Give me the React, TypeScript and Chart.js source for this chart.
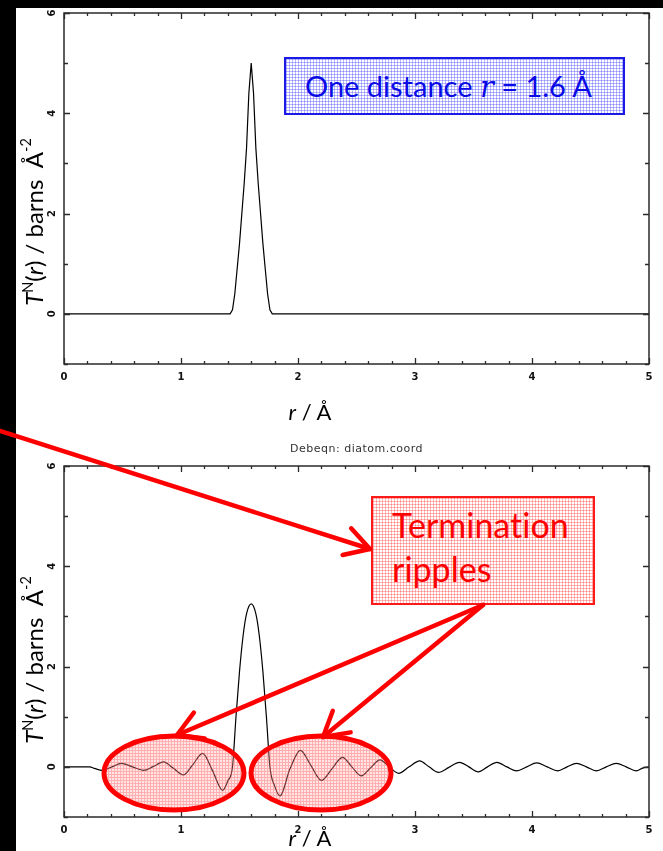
import React, { useEffect, useRef } from 'react';
import { Chart, registerables } from 'chart.js';

Chart.register(...registerables);

// ---- data ----
const topR = [0, 1.42, 1.44, 1.46, 1.48, 1.5, 1.52, 1.54, 1.56, 1.58, 1.6, 1.62, 1.64, 1.66, 1.68, 1.7, 1.72, 1.74, 1.76, 1.78, 5];
const topT = [0, 0, 0.08, 0.4, 0.9, 1.4, 2.0, 2.6, 3.3, 4.4, 5.0, 4.4, 3.3, 2.6, 2.0, 1.4, 0.9, 0.4, 0.08, 0, 0];

const bottomR = [0, 0.22, 0.26, 0.33, 0.41, 0.49, 0.585, 0.68, 0.765, 0.85, 0.935, 1.02, 1.1, 1.185, 1.27, 1.356, 1.4, 1.44, 1.47, 1.5, 1.53, 1.56, 1.6, 1.64, 1.67, 1.7, 1.73, 1.76, 1.8, 1.846, 1.93, 2.02, 2.11, 2.2, 2.29, 2.38, 2.46, 2.54, 2.62, 2.7, 2.78, 2.86, 2.95, 3.04, 3.12, 3.2, 3.29, 3.38, 3.46, 3.54, 3.62, 3.7, 3.785, 3.87, 3.955, 4.04, 4.13, 4.22, 4.3, 4.38, 4.465, 4.55, 4.635, 4.72, 4.805, 4.89, 4.95, 5.0];
const bottomT = [0, 0, -0.03, -0.07, 0, 0.07, 0, -0.07, 0.01, 0.1, -0.03, -0.16, 0.04, 0.27, -0.08, -0.47, -0.28, 0, 1.0, 1.9, 2.6, 3.05, 3.25, 3.05, 2.6, 1.9, 1.0, 0, -0.38, -0.58, -0.05, 0.33, 0.03, -0.27, -0.04, 0.19, 0, -0.18, -0.02, 0.14, 0, -0.13, 0, 0.12, 0, -0.11, -0.01, 0.09, 0, -0.1, 0, 0.09, 0, -0.08, 0, 0.08, 0, -0.08, 0, 0.07, 0, -0.08, 0, 0.07, 0, -0.08, -0.02, 0];

const xTickLabels = ['0', '1', '2', '3', '4', '5'];
const xMinorTicks = [0.2, 0.4, 0.6, 0.8, 1.2, 1.4, 1.6, 1.8, 2.2, 2.4, 2.6, 2.8, 3.2, 3.4, 3.6, 3.8, 4.2, 4.4, 4.6, 4.8];
const yTickLabels = ['0', '2', '4', '6'];
const yMinorTicks = [-1, 1, 3, 5];
const bottomTitle = 'Debeqn: diatom.coord';

const framePlugin = {
  id: 'frame',
  afterDraw(chart: any, _args: any, opts: any) {
    const { ctx, chartArea: a } = chart;
    const xs = chart.scales.x;
    const ys = chart.scales.y;
    ctx.save();
    ctx.strokeStyle = '#2a2a2a';
    ctx.lineWidth = 1.5;
    ctx.strokeRect(a.left, a.top, a.right - a.left, a.bottom - a.top);
    ctx.lineWidth = 1.3;
    ctx.beginPath();
    const xt = (v: number, len: number) => {
      const p = Math.round(xs.getPixelForValue(v)) + 0.5;
      ctx.moveTo(p, a.bottom); ctx.lineTo(p, a.bottom - len);
      ctx.moveTo(p, a.top); ctx.lineTo(p, a.top + len);
    };
    const yt = (v: number, len: number) => {
      const p = Math.round(ys.getPixelForValue(v)) + 0.5;
      ctx.moveTo(a.left, p); ctx.lineTo(a.left + len, p);
      ctx.moveTo(a.right, p); ctx.lineTo(a.right - len, p);
    };
    xTickLabels.forEach((l) => xt(Number(l), 6));
    xMinorTicks.forEach((v) => xt(v, 3));
    yTickLabels.forEach((l) => yt(Number(l), 6));
    yMinorTicks.forEach((v) => yt(v, 4));
    ctx.stroke();

    ctx.fillStyle = '#111';
    ctx.font = 'bold 10px "DejaVu Sans"';
    ctx.textAlign = 'center';
    ctx.textBaseline = 'middle';
    xTickLabels.forEach((l) => {
      ctx.fillText(l, xs.getPixelForValue(Number(l)), a.bottom + 13);
    });
    yTickLabels.forEach((l) => {
      ctx.save();
      ctx.translate(a.left - 12, ys.getPixelForValue(Number(l)));
      ctx.rotate(-Math.PI / 2);
      ctx.fillText(l, 0, 0);
      ctx.restore();
    });
    if (opts && opts.title) {
      ctx.fillStyle = '#333';
      ctx.font = '11px "DejaVu Sans"';
      try { (ctx as any).letterSpacing = '0.5px'; } catch (e) { /* ignore */ }
      ctx.fillText(opts.title, (a.left + a.right) / 2, a.top - 17);
    }
    ctx.restore();
  },
};

function makeChart(canvas: HTMLCanvasElement, r: number[], t: number[], padding: any, title: string, smooth: boolean) {
  return new Chart(canvas, {
    type: 'line',
    data: {
      datasets: [
        {
          data: r.map((v, i) => ({ x: v, y: t[i] })),
          borderColor: '#000',
          borderWidth: 1.2,
          pointRadius: 0,
          fill: false,
          tension: 0,
          cubicInterpolationMode: smooth ? 'monotone' : 'default',
        } as any,
      ],
    },
    options: {
      animation: false,
      responsive: false,
      events: [],
      layout: { padding },
      plugins: {
        legend: { display: false },
        tooltip: { enabled: false },
        title: { display: false },
        frame: { title },
      } as any,
      scales: {
        x: { type: 'linear', min: 0, max: 5, display: false },
        y: { type: 'linear', min: -1, max: 6, display: false },
      },
    },
    plugins: [framePlugin],
  });
}

function arrowHead(x1: number, y1: number, x2: number, y2: number, len = 28, ang = Math.PI / 6) {
  const th = Math.atan2(y1 - y2, x1 - x2);
  const a = { x: x2 + len * Math.cos(th + ang), y: y2 + len * Math.sin(th + ang) };
  const b = { x: x2 + len * Math.cos(th - ang), y: y2 + len * Math.sin(th - ang) };
  return `${a.x},${a.y} ${x2},${y2} ${b.x},${b.y}`;
}

const arrows = [
  [0, 431, 370, 549],
  [483, 605, 177, 735],
  [483, 605, 323, 737],
];

const yTitle = (
  <>
    <i>T</i>
    <sup style={{ fontSize: '0.6em', verticalAlign: '0.7em' }}>N</sup>(<i>r</i>) / barns&nbsp; Å
    <sup style={{ fontSize: '0.6em', verticalAlign: '0.8em' }}>-2</sup>
  </>
);

export default function App() {
  const c1 = useRef<HTMLCanvasElement>(null);
  const c2 = useRef<HTMLCanvasElement>(null);

  useEffect(() => {
    const ch1 = makeChart(c1.current!, topR, topT, { left: 48, top: 5, right: 14, bottom: 56 }, '', false);
    const ch2 = makeChart(c2.current!, bottomR, bottomT, { left: 48, top: 46, right: 14, bottom: 34 }, bottomTitle, true);
    return () => {
      ch1.destroy();
      ch2.destroy();
    };
  }, []);

  const font = 'Lato, "Open Sans", sans-serif';
  const yTitleStyle = (cy: number): React.CSSProperties => ({
    position: 'absolute', left: 30, top: cy, transform: 'translate(-50%, -50%) rotate(-90deg)',
    whiteSpace: 'nowrap', fontFamily: font, fontSize: 24, color: '#000', lineHeight: '28px',
  });
  const xTitleStyle = (top: number): React.CSSProperties => ({
    position: 'absolute', left: 250, width: 120, top, textAlign: 'center',
    whiteSpace: 'nowrap', fontFamily: font, fontSize: 22, lineHeight: '22px', color: '#000',
  });

  return (
    <div style={{ position: 'absolute', left: 0, top: 0, width: 663, height: 851, background: '#000', overflow: 'hidden', fontVariantLigatures: 'none' }}>
      <div style={{ position: 'absolute', left: 16, top: 8, width: 647, height: 843, background: '#fff' }} />
      <canvas ref={c1} width={647} height={412} style={{ position: 'absolute', left: 16, top: 8, width: 647, height: 412 }} />
      <canvas ref={c2} width={647} height={431} style={{ position: 'absolute', left: 16, top: 420, width: 647, height: 431 }} />

      <div style={yTitleStyle(222)}>{yTitle}</div>
      <div style={yTitleStyle(660)}>{yTitle}</div>
      <div style={xTitleStyle(401)}><i>r</i> / Å</div>
      <div style={xTitleStyle(827)}><i>r</i> / Å</div>

      <div
        style={{
          position: 'absolute', left: 284, top: 57, width: 341, height: 58, boxSizing: 'border-box',
          border: '2px solid #1a1ae6', backgroundColor: '#fff',
          backgroundImage: 'linear-gradient(rgba(70,70,255,0.38) 1px, transparent 1px), linear-gradient(90deg, rgba(70,70,255,0.38) 1px, transparent 1px)',
          backgroundSize: '3px 3px', display: 'flex', alignItems: 'center', justifyContent: 'center',
          paddingRight: 12,
          fontFamily: font, fontSize: 29, color: '#0a0ae6', whiteSpace: 'nowrap', fontVariantLigatures: 'none',
        }}
      >
        <span>One distance <i style={{ fontFamily: '"DejaVu Serif", serif' }}>r</i> = 1.6 Å</span>
      </div>

      <div
        style={{
          position: 'absolute', left: 371, top: 496, width: 224, height: 109, boxSizing: 'border-box',
          border: '2px solid #ff1a1a', backgroundColor: '#fff',
          backgroundImage: 'linear-gradient(rgba(255,60,60,0.36) 1px, transparent 1px), linear-gradient(90deg, rgba(255,60,60,0.36) 1px, transparent 1px)',
          backgroundSize: '3px 3px', paddingTop: 5, paddingLeft: 19,
          fontFamily: font, fontSize: 34, lineHeight: '44px', color: '#ff0000', whiteSpace: 'nowrap',
          fontVariantLigatures: 'none', fontFeatureSettings: '"liga" 0',
        }}
      >
        Termination
        <br />
        ripples
      </div>

      <svg width={663} height={851} style={{ position: 'absolute', left: 0, top: 0, pointerEvents: 'none' }}>
        <defs>
          <pattern id="pk" width="3" height="3" patternUnits="userSpaceOnUse">
            <rect width="3" height="3" fill="rgba(255,170,170,0.3)" />
            <rect width="3" height="1" fill="rgba(255,60,60,0.32)" />
            <rect x="0" y="1" width="1" height="2" fill="rgba(255,60,60,0.32)" />
          </pattern>
        </defs>
        <ellipse cx={174} cy={773} rx={70} ry={37} fill="url(#pk)" stroke="#ff0000" strokeWidth={5} />
        <ellipse cx={321} cy={773} rx={70} ry={37} fill="url(#pk)" stroke="#ff0000" strokeWidth={5} />
        {arrows.map(([x1, y1, x2, y2], i) => (
          <g key={i} stroke="#ff0000" strokeWidth={4.5} strokeLinecap="round" strokeLinejoin="round" fill="none">
            <line x1={x1} y1={y1} x2={x2} y2={y2} />
            <polyline points={arrowHead(x1, y1, x2, y2)} />
          </g>
        ))}
      </svg>
    </div>
  );
}
